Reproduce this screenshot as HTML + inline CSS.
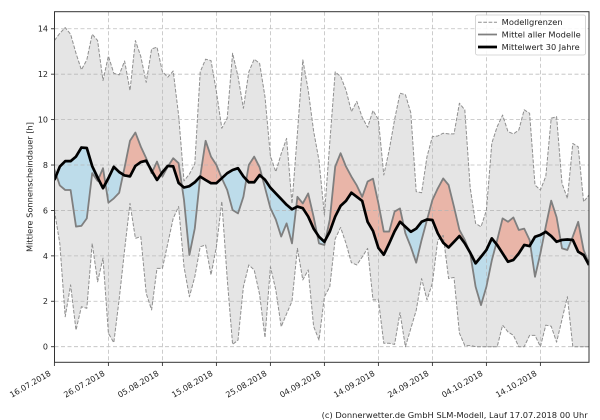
<!DOCTYPE html>
<html><head><meta charset="utf-8"><style>html,body{margin:0;padding:0;background:#fff}svg{display:block}text{font-family:"DejaVu Sans","Liberation Sans",sans-serif;fill:#222}</style></head>
<body>
<svg width="600" height="420" viewBox="0 0 600 420" xmlns="http://www.w3.org/2000/svg">
<rect width="600" height="420" fill="#fff"/>
<defs>
<clipPath id="ax"><rect x="54.5" y="11.7" width="534.5" height="350.6"/></clipPath>
<clipPath id="cAbove" clipPathUnits="userSpaceOnUse"><polygon points="0,7.34 1,7.93 2,8.17 3,8.17 4,8.37 5,8.77 6,8.75 7,7.95 8,7.45 9,6.98 10,7.42 11,7.92 12,7.69 13,7.54 14,7.5 15,7.96 16,8.13 17,8.19 18,7.75 19,7.34 20,7.68 21,7.96 22,7.94 23,7.21 24,7.01 25,7.07 26,7.24 27,7.49 28,7.34 29,7.2 30,7.2 31,7.42 32,7.64 33,7.78 34,7.86 35,7.5 36,7.24 37,7.24 38,7.56 39,7.35 40,7.0 41,6.75 42,6.5 43,6.25 44,6.05 45,6.17 46,6.1 47,5.73 48,5.2 49,4.84 50,4.62 51,5.07 52,5.73 53,6.2 54,6.42 55,6.78 56,6.6 57,6.42 58,5.5 59,5.1 60,4.35 61,4.05 62,4.55 63,5.08 64,5.5 65,5.28 66,5.06 67,5.2 68,5.5 69,5.6 70,5.58 71,4.99 72,4.58 73,4.37 74,4.62 75,4.87 76,4.55 77,4.14 78,3.67 79,3.96 80,4.26 81,4.77 82,4.48 83,4.11 84,3.74 85,3.82 86,4.11 87,4.48 88,4.43 89,4.84 90,4.92 91,5.06 92,4.87 93,4.62 94,4.7 95,4.72 96,4.7 97,4.18 98,4.04 99,3.6 99,20 0,20"/></clipPath>
<clipPath id="cBelow" clipPathUnits="userSpaceOnUse"><polygon points="0,7.34 1,7.93 2,8.17 3,8.17 4,8.37 5,8.77 6,8.75 7,7.95 8,7.45 9,6.98 10,7.42 11,7.92 12,7.69 13,7.54 14,7.5 15,7.96 16,8.13 17,8.19 18,7.75 19,7.34 20,7.68 21,7.96 22,7.94 23,7.21 24,7.01 25,7.07 26,7.24 27,7.49 28,7.34 29,7.2 30,7.2 31,7.42 32,7.64 33,7.78 34,7.86 35,7.5 36,7.24 37,7.24 38,7.56 39,7.35 40,7.0 41,6.75 42,6.5 43,6.25 44,6.05 45,6.17 46,6.1 47,5.73 48,5.2 49,4.84 50,4.62 51,5.07 52,5.73 53,6.2 54,6.42 55,6.78 56,6.6 57,6.42 58,5.5 59,5.1 60,4.35 61,4.05 62,4.55 63,5.08 64,5.5 65,5.28 66,5.06 67,5.2 68,5.5 69,5.6 70,5.58 71,4.99 72,4.58 73,4.37 74,4.62 75,4.87 76,4.55 77,4.14 78,3.67 79,3.96 80,4.26 81,4.77 82,4.48 83,4.11 84,3.74 85,3.82 86,4.11 87,4.48 88,4.43 89,4.84 90,4.92 91,5.06 92,4.87 93,4.62 94,4.7 95,4.72 96,4.7 97,4.18 98,4.04 99,3.6 99,-2 0,-2"/></clipPath>
</defs>

<g clip-path="url(#ax)">
<g transform="matrix(5.4 0 0 -22.71 54.4 346.7)">
<polygon fill="#e5e5e5" points="0,13.48 1,13.8 2,14.05 3,13.76 4,12.92 5,12.19 6,12.63 7,13.76 8,13.48 9,11.72 10,12.8 11,12.04 12,11.97 13,12.58 14,11.28 15,13.48 16,12.78 17,11.64 18,13.11 19,13.19 20,12.11 21,11.87 22,12.14 23,10.2 24,7.3 25,7.6 26,8.05 27,12.1 28,12.66 29,12.6 30,11.23 31,9.62 32,10.06 33,12.92 34,11.9 35,10.5 36,12.1 37,12.66 38,12.48 39,11.0 40,8.4 41,7.7 42,8.5 43,9.17 44,6.3 45,9.4 46,12.63 47,11.3 48,9.5 49,8.2 50,5.8 51,9.0 52,12.1 53,11.9 54,11.3 55,10.35 56,10.8 57,10.1 58,9.66 59,10.4 60,10.0 61,7.56 62,8.66 63,10.0 64,11.16 65,11.1 66,10.3 67,6.83 68,6.78 69,8.37 70,9.25 71,9.28 72,9.4 73,9.37 74,9.37 75,10.72 76,10.43 77,7.0 78,5.43 79,5.28 80,6.0 81,8.96 82,9.69 83,10.2 84,9.47 85,9.37 86,9.54 87,10.43 88,10.28 89,7.12 90,6.9 91,7.5 92,10.06 93,10.13 94,7.19 95,6.53 96,8.95 97,8.8 98,6.38 99,6.68 99,-2 0,-2"/>
<polygon fill="#ffffff" points="0,6.0 1,4.55 2,1.32 3,2.72 4,0.73 5,1.76 6,1.69 7,4.55 8,2.86 9,3.9 10,0.59 11,0.18 12,2.1 13,4.26 14,6.31 15,4.77 16,4.85 17,2.35 18,1.62 19,3.45 20,3.45 21,4.55 22,5.65 23,6.17 24,3.52 25,2.2 26,3.08 27,4.4 28,4.48 29,3.16 30,4.4 31,6.4 32,3.0 33,0.1 34,0.29 35,2.64 36,3.6 37,3.38 38,2.3 39,0.4 40,3.52 41,2.5 42,0.88 43,1.45 44,2.0 45,4.33 46,2.94 47,3.38 48,0.9 49,0.29 50,2.2 51,2.64 52,4.75 53,5.25 54,4.55 55,3.7 56,3.6 57,3.95 58,4.33 59,2.06 60,2.06 61,0.15 62,0.15 63,0.1 64,1.5 65,0 66,0.8 67,1.6 68,3.0 69,2.06 70,2.8 71,4.7 72,4.9 73,3.0 74,3.05 75,0.6 76,0.05 77,0.05 78,0 79,0 80,0 81,0 82,0 83,0.95 84,0.65 85,0.5 86,0 87,0 88,0.5 89,0.5 90,0 91,0.95 92,0.9 93,0.2 94,1.2 95,2.2 96,0 97,0 98,0 99,0 99,-2 0,-2"/>
<polygon fill="#e9b5a8" clip-path="url(#cAbove)" points="0,7.8 1,7.1 2,6.9 3,6.9 4,5.29 5,5.32 6,5.65 7,7.64 8,7.3 9,7.86 10,6.34 11,6.53 12,6.78 13,7.9 14,9.07 15,9.43 16,8.81 17,8.3 18,7.64 19,8.15 20,7.49 21,7.93 22,8.3 23,8.08 24,6.46 25,4.04 26,5.21 27,7.49 28,9.07 29,8.37 30,8.0 31,7.42 32,6.9 33,6.02 34,5.87 35,6.6 36,8.0 37,8.37 38,7.9 39,7.0 40,6.1 41,5.6 42,4.85 43,5.43 44,4.55 45,6.6 46,6.31 47,6.75 48,5.72 49,4.55 50,4.48 51,5.6 52,7.93 53,8.52 54,7.93 55,7.49 56,7.1 57,6.6 58,7.27 59,7.4 60,6.31 61,5.07 62,5.07 63,5.95 64,6.09 65,4.99 66,4.4 67,3.7 68,4.7 69,5.58 70,6.46 71,6.97 72,7.41 73,7.12 74,6.16 75,5.14 76,4.7 77,4.11 78,2.64 79,1.83 80,2.64 81,3.8 82,4.7 83,5.65 84,5.5 85,5.69 86,5.14 87,5.2 88,4.7 89,3.08 90,4.11 91,5.3 92,6.43 93,5.7 94,4.33 95,4.26 96,4.85 97,5.5 98,4.26 99,3.67 99,-2 0,-2"/>
<polygon fill="#bddcea" clip-path="url(#cBelow)" points="0,7.8 1,7.1 2,6.9 3,6.9 4,5.29 5,5.32 6,5.65 7,7.64 8,7.3 9,7.86 10,6.34 11,6.53 12,6.78 13,7.9 14,9.07 15,9.43 16,8.81 17,8.3 18,7.64 19,8.15 20,7.49 21,7.93 22,8.3 23,8.08 24,6.46 25,4.04 26,5.21 27,7.49 28,9.07 29,8.37 30,8.0 31,7.42 32,6.9 33,6.02 34,5.87 35,6.6 36,8.0 37,8.37 38,7.9 39,7.0 40,6.1 41,5.6 42,4.85 43,5.43 44,4.55 45,6.6 46,6.31 47,6.75 48,5.72 49,4.55 50,4.48 51,5.6 52,7.93 53,8.52 54,7.93 55,7.49 56,7.1 57,6.6 58,7.27 59,7.4 60,6.31 61,5.07 62,5.07 63,5.95 64,6.09 65,4.99 66,4.4 67,3.7 68,4.7 69,5.58 70,6.46 71,6.97 72,7.41 73,7.12 74,6.16 75,5.14 76,4.7 77,4.11 78,2.64 79,1.83 80,2.64 81,3.8 82,4.7 83,5.65 84,5.5 85,5.69 86,5.14 87,5.2 88,4.7 89,3.08 90,4.11 91,5.3 92,6.43 93,5.7 94,4.33 95,4.26 96,4.85 97,5.5 98,4.26 99,3.67 99,20 0,20"/>
</g>

<g stroke="#b4b4b4" stroke-width="0.8" stroke-dasharray="4,2.5" fill="none" opacity="0.85">
<line x1="54.5" x2="589" y1="346.7" y2="346.7"/>
<line x1="54.5" x2="589" y1="301.28" y2="301.28"/>
<line x1="54.5" x2="589" y1="255.86" y2="255.86"/>
<line x1="54.5" x2="589" y1="210.44" y2="210.44"/>
<line x1="54.5" x2="589" y1="165.02" y2="165.02"/>
<line x1="54.5" x2="589" y1="119.6" y2="119.6"/>
<line x1="54.5" x2="589" y1="74.18" y2="74.18"/>
<line x1="54.5" x2="589" y1="28.76" y2="28.76"/>
<line y1="11.7" y2="362.3" x1="108.4" x2="108.4"/>
<line y1="11.7" y2="362.3" x1="162.4" x2="162.4"/>
<line y1="11.7" y2="362.3" x1="216.4" x2="216.4"/>
<line y1="11.7" y2="362.3" x1="270.4" x2="270.4"/>
<line y1="11.7" y2="362.3" x1="324.4" x2="324.4"/>
<line y1="11.7" y2="362.3" x1="378.4" x2="378.4"/>
<line y1="11.7" y2="362.3" x1="432.4" x2="432.4"/>
<line y1="11.7" y2="362.3" x1="486.4" x2="486.4"/>
<line y1="11.7" y2="362.3" x1="540.4" x2="540.4"/>
</g>

<g transform="matrix(5.4 0 0 -22.71 54.4 346.7)" fill="none" stroke-linejoin="round">
<polyline vector-effect="non-scaling-stroke" stroke="#8f8f8f" stroke-width="1" stroke-dasharray="3.7,1.6" points="0,13.48 1,13.8 2,14.05 3,13.76 4,12.92 5,12.19 6,12.63 7,13.76 8,13.48 9,11.72 10,12.8 11,12.04 12,11.97 13,12.58 14,11.28 15,13.48 16,12.78 17,11.64 18,13.11 19,13.19 20,12.11 21,11.87 22,12.14 23,10.2 24,7.3 25,7.6 26,8.05 27,12.1 28,12.66 29,12.6 30,11.23 31,9.62 32,10.06 33,12.92 34,11.9 35,10.5 36,12.1 37,12.66 38,12.48 39,11.0 40,8.4 41,7.7 42,8.5 43,9.17 44,6.3 45,9.4 46,12.63 47,11.3 48,9.5 49,8.2 50,5.8 51,9.0 52,12.1 53,11.9 54,11.3 55,10.35 56,10.8 57,10.1 58,9.66 59,10.4 60,10.0 61,7.56 62,8.66 63,10.0 64,11.16 65,11.1 66,10.3 67,6.83 68,6.78 69,8.37 70,9.25 71,9.28 72,9.4 73,9.37 74,9.37 75,10.72 76,10.43 77,7.0 78,5.43 79,5.28 80,6.0 81,8.96 82,9.69 83,10.2 84,9.47 85,9.37 86,9.54 87,10.43 88,10.28 89,7.12 90,6.9 91,7.5 92,10.06 93,10.13 94,7.19 95,6.53 96,8.95 97,8.8 98,6.38 99,6.68"/>
<polyline vector-effect="non-scaling-stroke" stroke="#8f8f8f" stroke-width="1" stroke-dasharray="3.7,1.6" points="0,6.0 1,4.55 2,1.32 3,2.72 4,0.73 5,1.76 6,1.69 7,4.55 8,2.86 9,3.9 10,0.59 11,0.18 12,2.1 13,4.26 14,6.31 15,4.77 16,4.85 17,2.35 18,1.62 19,3.45 20,3.45 21,4.55 22,5.65 23,6.17 24,3.52 25,2.2 26,3.08 27,4.4 28,4.48 29,3.16 30,4.4 31,6.4 32,3.0 33,0.1 34,0.29 35,2.64 36,3.6 37,3.38 38,2.3 39,0.4 40,3.52 41,2.5 42,0.88 43,1.45 44,2.0 45,4.33 46,2.94 47,3.38 48,0.9 49,0.29 50,2.2 51,2.64 52,4.75 53,5.25 54,4.55 55,3.7 56,3.6 57,3.95 58,4.33 59,2.06 60,2.06 61,0.15 62,0.15 63,0.1 64,1.5 65,0 66,0.8 67,1.6 68,3.0 69,2.06 70,2.8 71,4.7 72,4.9 73,3.0 74,3.05 75,0.6 76,0.05 77,0.05 78,0 79,0 80,0 81,0 82,0 83,0.95 84,0.65 85,0.5 86,0 87,0 88,0.5 89,0.5 90,0 91,0.95 92,0.9 93,0.2 94,1.2 95,2.2 96,0 97,0 98,0 99,0"/>
<polyline vector-effect="non-scaling-stroke" stroke="#7f7f7f" stroke-width="1.8" points="0,7.8 1,7.1 2,6.9 3,6.9 4,5.29 5,5.32 6,5.65 7,7.64 8,7.3 9,7.86 10,6.34 11,6.53 12,6.78 13,7.9 14,9.07 15,9.43 16,8.81 17,8.3 18,7.64 19,8.15 20,7.49 21,7.93 22,8.3 23,8.08 24,6.46 25,4.04 26,5.21 27,7.49 28,9.07 29,8.37 30,8.0 31,7.42 32,6.9 33,6.02 34,5.87 35,6.6 36,8.0 37,8.37 38,7.9 39,7.0 40,6.1 41,5.6 42,4.85 43,5.43 44,4.55 45,6.6 46,6.31 47,6.75 48,5.72 49,4.55 50,4.48 51,5.6 52,7.93 53,8.52 54,7.93 55,7.49 56,7.1 57,6.6 58,7.27 59,7.4 60,6.31 61,5.07 62,5.07 63,5.95 64,6.09 65,4.99 66,4.4 67,3.7 68,4.7 69,5.58 70,6.46 71,6.97 72,7.41 73,7.12 74,6.16 75,5.14 76,4.7 77,4.11 78,2.64 79,1.83 80,2.64 81,3.8 82,4.7 83,5.65 84,5.5 85,5.69 86,5.14 87,5.2 88,4.7 89,3.08 90,4.11 91,5.3 92,6.43 93,5.7 94,4.33 95,4.26 96,4.85 97,5.5 98,4.26 99,3.67"/>
<polyline vector-effect="non-scaling-stroke" stroke="#000" stroke-width="2.7" points="0,7.34 1,7.93 2,8.17 3,8.17 4,8.37 5,8.77 6,8.75 7,7.95 8,7.45 9,6.98 10,7.42 11,7.92 12,7.69 13,7.54 14,7.5 15,7.96 16,8.13 17,8.19 18,7.75 19,7.34 20,7.68 21,7.96 22,7.94 23,7.21 24,7.01 25,7.07 26,7.24 27,7.49 28,7.34 29,7.2 30,7.2 31,7.42 32,7.64 33,7.78 34,7.86 35,7.5 36,7.24 37,7.24 38,7.56 39,7.35 40,7.0 41,6.75 42,6.5 43,6.25 44,6.05 45,6.17 46,6.1 47,5.73 48,5.2 49,4.84 50,4.62 51,5.07 52,5.73 53,6.2 54,6.42 55,6.78 56,6.6 57,6.42 58,5.5 59,5.1 60,4.35 61,4.05 62,4.55 63,5.08 64,5.5 65,5.28 66,5.06 67,5.2 68,5.5 69,5.6 70,5.58 71,4.99 72,4.58 73,4.37 74,4.62 75,4.87 76,4.55 77,4.14 78,3.67 79,3.96 80,4.26 81,4.77 82,4.48 83,4.11 84,3.74 85,3.82 86,4.11 87,4.48 88,4.43 89,4.84 90,4.92 91,5.06 92,4.87 93,4.62 94,4.7 95,4.72 96,4.7 97,4.18 98,4.04 99,3.6"/>
</g>
</g>

<rect x="54.5" y="11.7" width="534.5" height="350.6" fill="none" stroke="#333" stroke-width="1"/>

<g stroke="#333" stroke-width="0.9">
<line x1="51" x2="54.5" y1="346.7" y2="346.7"/>
<line x1="51" x2="54.5" y1="301.28" y2="301.28"/>
<line x1="51" x2="54.5" y1="255.86" y2="255.86"/>
<line x1="51" x2="54.5" y1="210.44" y2="210.44"/>
<line x1="51" x2="54.5" y1="165.02" y2="165.02"/>
<line x1="51" x2="54.5" y1="119.6" y2="119.6"/>
<line x1="51" x2="54.5" y1="74.18" y2="74.18"/>
<line x1="51" x2="54.5" y1="28.76" y2="28.76"/>
<line y1="362.3" y2="366" x1="54.4" x2="54.4"/>
<line y1="362.3" y2="366" x1="108.4" x2="108.4"/>
<line y1="362.3" y2="366" x1="162.4" x2="162.4"/>
<line y1="362.3" y2="366" x1="216.4" x2="216.4"/>
<line y1="362.3" y2="366" x1="270.4" x2="270.4"/>
<line y1="362.3" y2="366" x1="324.4" x2="324.4"/>
<line y1="362.3" y2="366" x1="378.4" x2="378.4"/>
<line y1="362.3" y2="366" x1="432.4" x2="432.4"/>
<line y1="362.3" y2="366" x1="486.4" x2="486.4"/>
<line y1="362.3" y2="366" x1="540.4" x2="540.4"/>
</g>
<g font-size="8" text-anchor="end">
<text x="48" y="349.6">0</text>
<text x="48" y="304.2">2</text>
<text x="48" y="258.8">4</text>
<text x="48" y="213.3">6</text>
<text x="48" y="167.9">8</text>
<text x="48" y="122.5">10</text>
<text x="48" y="77.1">12</text>
<text x="48" y="31.7">14</text>
</g>
<g font-size="8" text-anchor="end">
<text transform="translate(51.4,375) rotate(-30)">16.07.2018</text>
<text transform="translate(105.4,375) rotate(-30)">26.07.2018</text>
<text transform="translate(159.4,375) rotate(-30)">05.08.2018</text>
<text transform="translate(213.4,375) rotate(-30)">15.08.2018</text>
<text transform="translate(267.4,375) rotate(-30)">25.08.2018</text>
<text transform="translate(321.4,375) rotate(-30)">04.09.2018</text>
<text transform="translate(375.4,375) rotate(-30)">14.09.2018</text>
<text transform="translate(429.4,375) rotate(-30)">24.09.2018</text>
<text transform="translate(483.4,375) rotate(-30)">04.10.2018</text>
<text transform="translate(537.4,375) rotate(-30)">14.10.2018</text>
</g>
<text font-size="8" text-anchor="middle" transform="translate(32.5,187) rotate(-90)" textLength="130" lengthAdjust="spacingAndGlyphs">Mittlere Sonnenscheindauer [h]</text>

<rect x="475.5" y="15" width="110" height="40" rx="2" fill="#fff" fill-opacity="0.85" stroke="#cccccc" stroke-width="0.8"/>
<line x1="478" x2="497" y1="22.3" y2="22.3" stroke="#8f8f8f" stroke-width="1" stroke-dasharray="3.7,1.6"/>
<line x1="478" x2="497" y1="34.5" y2="34.5" stroke="#7f7f7f" stroke-width="1.8"/>
<line x1="478" x2="497" y1="47" y2="47" stroke="#000" stroke-width="2.7"/>
<g font-size="8">
<text x="501.7" y="25.2" textLength="61" lengthAdjust="spacingAndGlyphs">Modellgrenzen</text>
<text x="501.7" y="37.4" textLength="79" lengthAdjust="spacingAndGlyphs">Mittel aller Modelle</text>
<text x="501.7" y="49.9" textLength="78" lengthAdjust="spacingAndGlyphs">Mittelwert 30 Jahre</text>
</g>

<text x="321.7" y="418" font-size="8" textLength="266" lengthAdjust="spacingAndGlyphs">(c) Donnerwetter.de GmbH SLM-Modell, Lauf 17.07.2018 00 Uhr</text>
</svg>
</body></html>
